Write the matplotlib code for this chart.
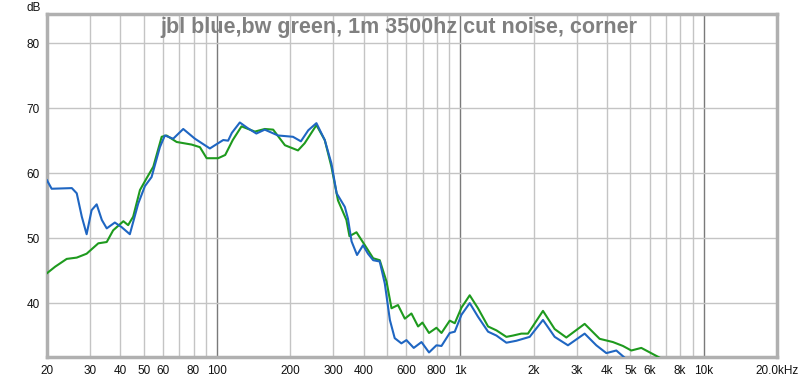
import matplotlib.pyplot as plt
from matplotlib.ticker import LogLocator, FuncFormatter

plt.rcParams['font.family'] = ['Liberation Sans', 'DejaVu Sans']

title = "jbl blue,bw green, 1m 3500hz cut noise, corner"

# jbl (blue) response
jbl_freq = [20, 20.9, 25.3, 26.5, 27.8, 29.1, 30.5, 32.0, 33.6, 35.2, 38.0, 40.5,
            43.8, 47.4, 50.5, 53.8, 58.2, 61.0, 66.0, 72.6, 81.1, 93.4, 98, 106,
            111, 115, 124, 134, 145, 157, 178, 205, 221, 237, 256, 277, 295, 310,
            335, 345, 357, 376, 398, 417, 438, 466, 489, 513, 537, 572, 600, 643,
            692, 743, 797, 836, 904, 948, 1010, 1092, 1181, 1299, 1406, 1545, 1698,
            1926, 2184, 2440, 2766, 3240, 3618, 3978, 4372, 4728, 5000]
jbl_db = [58.9, 57.6, 57.7, 56.9, 53.3, 50.6, 54.3, 55.2, 52.8, 51.5, 52.4, 51.7,
          50.6, 55.3, 58.0, 59.4, 64.0, 65.8, 65.3, 66.8, 65.3, 63.8, 64.3, 65.1,
          65.0, 66.2, 67.8, 66.9, 66.1, 66.7, 65.8, 65.6, 64.9, 66.6, 67.7, 65.1,
          61.5, 56.9, 54.8, 53.0, 49.5, 47.4, 48.9, 47.6, 46.6, 46.4, 43.0, 37.4,
          34.6, 33.8, 34.3, 33.1, 34.0, 32.4, 33.5, 33.4, 35.4, 35.6, 38.2, 40.0,
          37.9, 35.6, 35.0, 33.9, 34.2, 34.8, 37.4, 34.8, 33.5, 35.3, 33.5, 32.3,
          32.7, 31.6, 30.8]

# bw (green) response
bw_freq = [20, 21.6, 24.1, 26.5, 29.1, 32.5, 35.2, 37.4, 41.2, 43.1, 45.2, 48.2,
           51.3, 54.7, 59.2, 62.0, 68.2, 78.6, 85.0, 90.6, 101, 108, 116, 126, 143,
           157, 170, 190, 215, 229, 256, 277, 295, 314, 340, 350, 374, 405, 438, 466,
           497, 521, 554, 591, 629, 670, 698, 743, 797, 836, 904, 948, 1010, 1092,
           1181, 1299, 1406, 1545, 1644, 1781, 1895, 2184, 2440, 2724, 3240, 3733,
           4234, 4654, 5038, 5538, 6586, 7000]
bw_db = [44.6, 45.6, 46.8, 47.0, 47.6, 49.2, 49.4, 51.2, 52.6, 52.0, 53.3, 57.4,
         59.2, 61.0, 65.6, 65.8, 64.8, 64.4, 64.0, 62.3, 62.3, 62.8, 65.1, 67.2, 66.4,
         66.8, 66.7, 64.3, 63.5, 64.6, 67.4, 65.1, 61.0, 55.8, 52.8, 50.3, 50.9, 48.9,
         46.9, 46.6, 43.3, 39.2, 39.7, 37.6, 38.4, 36.4, 37.0, 35.4, 36.2, 35.4, 37.3,
         36.9, 39.3, 41.2, 39.2, 36.4, 35.8, 34.8, 35.0, 35.3, 35.3, 38.8, 36.0, 34.7,
         36.8, 34.5, 34.0, 33.4, 32.7, 33.1, 31.6, 31.0]

tick_labels = {20: "20", 30: "30", 40: "40", 50: "50", 60: "60", 80: "80",
               100: "100", 200: "200", 300: "300", 400: "400", 600: "600",
               800: "800", 1000: "1k", 2000: "2k", 3000: "3k", 4000: "4k",
               5000: "5k", 6000: "6k", 8000: "8k", 10000: "10k", 20000: "20.0kHz"}
db_ticks = [40, 50, 60, 70, 80]


def freq_label(v, pos):
    return tick_labels.get(int(round(v)), "")


fig = plt.figure(figsize=(8, 3.78), dpi=100)
ax = fig.add_axes([47 / 800, 21 / 378, 730 / 800, 343 / 378])

ax.plot(bw_freq, bw_db, color='#1e9a1e', lw=1.5, solid_joinstyle='round', zorder=3)
ax.plot(jbl_freq, jbl_db, color='#1f66c2', lw=1.5, solid_joinstyle='round', zorder=4)

ax.set_xscale('log')
ax.set_xlim(20, 20000)
ax.set_ylim(31.7, 84.5)

ax.xaxis.set_major_locator(LogLocator(base=10, subs=(1.0,)))
ax.xaxis.set_minor_locator(LogLocator(base=10, subs=range(2, 10)))
ax.xaxis.set_major_formatter(FuncFormatter(freq_label))
ax.xaxis.set_minor_formatter(FuncFormatter(freq_label))
ax.set_yticks(db_ticks)

ax.tick_params(which='both', length=0, labelsize=8.5, colors='#111111', pad=6)
ax.tick_params(axis='y', pad=5)

ax.grid(which='minor', axis='x', color='#c4c4c4', lw=1.0)
ax.grid(which='major', axis='x', color='#7a7a7a', lw=1.0)
ax.grid(which='major', axis='y', color='#c4c4c4', lw=1.0)
ax.set_axisbelow(True)

for s in ax.spines.values():
    s.set_color('#b0b0b0')
    s.set_linewidth(2.5)

fig.text(399 / 800, 1 - 27 / 378, title, ha='center', va='center',
         fontsize=15.5, fontweight='bold', color='#808080')
fig.text(41 / 800, 1 - 2 / 378, "dB", ha='right', va='top', fontsize=8.5, color='#111111')

fig.savefig('out.png', dpi=100, facecolor='white')
